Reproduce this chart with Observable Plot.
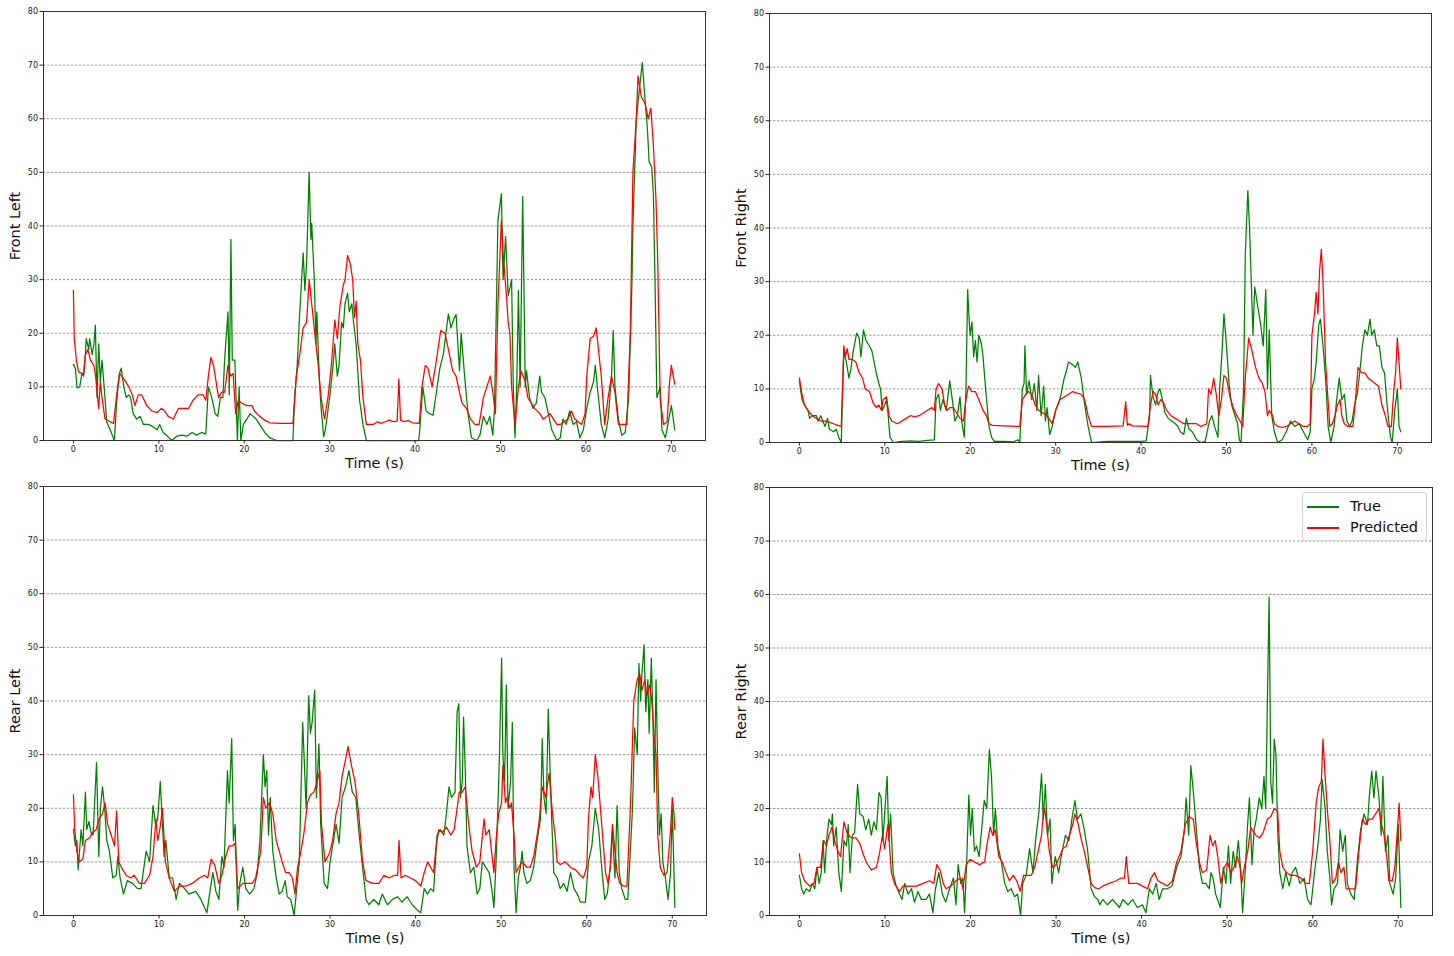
<!DOCTYPE html>
<html><head><meta charset="utf-8">
<script src="https://cdn.jsdelivr.net/npm/d3@7"></script>
<script src="https://cdn.jsdelivr.net/npm/@observablehq/plot@0.6"></script>
<style>
body{margin:0;background:#fff;font-family:"DejaVu Sans",sans-serif}
#fig{position:relative;width:1454px;height:956px;overflow:hidden}
.panel{position:absolute}
.legend{position:absolute;left:1302px;top:492px;width:123px;height:47px;border:1px solid #d4d4d4;border-radius:3px;background:rgba(255,255,255,0.85);font-family:"DejaVu Sans",sans-serif;font-size:14.5px;color:#111}
.legend .row{position:absolute;left:4px;height:20px;line-height:20px;white-space:nowrap}
.legend .sw{display:inline-block;width:32px;height:1.6px;vertical-align:middle;margin-right:11px}
</style></head><body><div id="fig"></div><script>
const xTicks = [0,10,20,30,40,50,60,70];
const yTicks = [0,10,20,30,40,50,60,70,80];
const gridTicks = [10,20,30,40,50,60,70];
const seriesNames = ["True","Predicted"];
const panelNames = ["Front Left","Front Right","Rear Left","Rear Right"];

const frontLeftTrue = [[0,14.2],[0.23,13.5],[0.43,9.8],[0.74,10],[1.0,12.5],[1.2,12],[1.4,16],[1.5,19],[1.8,17],[1.9,19],[2.2,16],[2.4,18],[2.57,21.5],[2.76,8],[2.96,18],[3.15,11],[3.35,15],[3.6,10],[3.9,3.5],[4.3,2],[4.8,0],[5.1,8],[5.4,12.5],[5.6,13.5],[5.9,10],[6.2,8],[6.5,8.5],[6.7,8],[7.0,5],[7.4,4],[7.8,4.5],[8.2,3],[8.8,3],[9.4,2.5],[9.8,2],[10.1,3],[10.5,1.5],[10.9,1],[11.5,0],[12.1,0.8],[12.7,1],[13.3,0.8],[13.9,1.5],[14.4,1],[15.0,1.5],[15.5,1.2],[15.8,10],[16.2,8],[16.6,5],[16.9,4.5],[17.2,8],[17.5,8],[17.7,15],[18.1,24],[18.25,8.5],[18.44,37.5],[18.6,15],[18.9,15],[19.2,0],[19.4,10],[19.6,0],[19.9,3],[20.3,4],[20.7,5],[21.05,4.5],[21.4,4],[21.8,3],[22.4,1.5],[23.0,0.5],[23.8,0],[25.7,0],[25.9,8],[26.2,14],[26.5,24],[26.9,35],[27.1,28],[27.3,33],[27.6,50],[27.8,37.5],[27.9,40.5],[28.2,30],[28.4,18],[28.5,24],[28.8,11],[29,6],[29.3,0.7],[29.5,2],[30,8],[30.4,14],[30.6,18],[30.9,12],[31.1,14],[31.4,22],[31.6,21],[31.8,25.5],[32.1,27.5],[32.3,24],[32.6,25.5],[32.8,22],[33.1,18],[33.5,7.5],[33.9,3],[34.3,0],[40.4,0],[40.5,1],[40.9,10],[41.3,5.5],[41.7,5],[42.1,4.7],[42.5,9],[42.9,13.5],[43.3,16],[43.9,23.6],[44.2,21],[44.5,22.5],[44.8,23.5],[45.2,13],[45.4,20],[45.8,12],[46.2,5],[46.6,0.5],[47.2,0],[47.6,1],[48,4.5],[48.4,3],[48.75,4.5],[49.1,1],[49.3,6],[49.7,41],[50.1,46],[50.3,30],[50.6,38],[50.9,27],[51.3,30],[51.5,10],[51.7,0.5],[51.9,10],[52.1,28],[52.3,10],[52.6,45.5],[52.9,10],[53.05,13],[53.4,8],[53.8,6],[54.2,7],[54.6,12],[54.8,9],[55.2,8],[55.6,5],[56,2],[56.6,0],[57,0.5],[57.3,4],[57.7,3],[58.1,5.5],[58.5,3],[58.9,3.5],[59.3,0.5],[59.7,2],[60.1,6],[60.5,9],[60.9,11],[61.1,14],[61.4,9],[61.8,3],[62.2,0.5],[62.6,4],[63,12],[63.2,20.5],[63.4,10],[63.8,4],[64.2,1],[64.6,1.5],[65,8],[65.4,30],[65.5,40],[65.9,60],[66.3,66],[66.6,70.5],[66.9,64],[67.2,58],[67.4,52],[67.7,51],[67.9,46],[68.1,29],[68.3,8],[68.7,10],[68.9,2],[69.3,0.5],[69.6,3],[70,6.5],[70.4,2]];
const frontLeftPred = [[0,28],[0.1,19],[0.35,15],[0.6,12.8],[1.0,12.5],[1.2,12.5],[1.4,16],[1.7,17],[2.0,15],[2.4,14],[2.6,12],[2.96,6],[3.15,11],[3.35,8],[3.7,4],[4.3,3.5],[4.7,3.2],[5.1,9],[5.4,12.5],[5.9,11.5],[6.5,10],[6.9,8.5],[7.2,6.5],[7.6,8.5],[8.0,8.5],[8.6,6.5],[9.2,5.5],[9.8,5.2],[10.3,6],[10.7,5.5],[11.1,4.5],[11.7,4],[12.3,6],[12.9,6],[13.5,6],[14.0,7.5],[14.6,8.5],[15.2,8.5],[15.5,7.5],[15.8,12],[16.1,15.5],[16.4,14],[16.8,10],[17.0,8],[17.35,9],[17.7,9],[18.1,14],[18.4,12],[18.7,12.5],[19.0,5],[19.3,7.5],[19.7,7],[20.3,6.5],[20.9,6.5],[21.2,5.5],[21.8,4.5],[22.4,3.8],[23.0,3.3],[24.2,3.2],[25.7,3.2],[26.1,12],[26.5,16],[26.9,21],[27.3,22],[27.6,30],[28.0,24],[28.25,20],[28.6,15],[29.0,8],[29.4,4],[29.8,8],[30.2,14],[30.6,22.5],[30.9,19],[31.2,25],[31.6,29],[31.8,30],[32.1,34.5],[32.4,33],[32.7,30],[32.9,23],[33.1,26],[33.3,18],[33.6,15],[33.9,8],[34.3,3],[35.1,3],[35.6,3.5],[36,3.2],[36.5,3.5],[37,3.8],[37.5,3.5],[37.9,3.6],[38.1,11.5],[38.3,3.8],[38.7,3.5],[39.2,3.7],[39.7,3.3],[40.5,3.2],[40.8,10],[41.2,14],[41.5,13.5],[42,10],[42.5,15],[43,20.5],[43.5,20],[43.9,17],[44.4,13],[44.8,12],[45.2,9],[45.5,7],[46,6],[46.5,4],[47,3],[47.5,3],[48,8],[48.4,10],[48.8,12],[49.1,9],[49.4,5],[49.7,25],[50.1,41],[50.3,35],[50.7,27],[50.9,22],[51.1,20],[51.3,10],[51.7,3],[52.1,10],[52.4,13],[52.9,11],[53.2,8],[53.6,7],[54,6],[54.6,5],[55,4],[55.4,4.5],[55.8,5],[56.2,4],[56.6,3],[57,3],[57.5,3.5],[57.9,4],[58.3,5.5],[58.7,4],[59.1,3.5],[59.5,3],[59.9,5],[60.1,12],[60.5,19],[60.9,19.5],[61.2,21],[61.4,18],[61.8,12],[62.2,3],[62.6,8],[63,12],[63.4,9],[63.8,3],[64.2,3],[64.8,3],[65.2,20],[65.5,50],[65.9,60],[66.1,68],[66.5,64],[66.9,63],[67.3,60],[67.6,62],[67.9,55],[68.2,45],[68.4,34],[68.7,7.5],[69.1,3],[69.5,3.5],[69.8,11],[70,14],[70.4,10.5]];

const frontRightTrue = [[0,11.5],[0.3,8],[0.5,7.3],[1,6],[1.2,4.5],[1.5,5],[2,5],[2.2,4],[2.5,5],[3,3],[3.3,4.5],[3.5,2.5],[4,2],[4.3,2.5],[4.6,1],[4.9,0],[5.2,17],[5.5,15],[5.8,12],[6,13.5],[6.3,17],[6.7,20.4],[7,19.5],[7.2,16],[7.5,21],[7.8,19],[8.2,18],[8.5,17],[9,13],[9.3,11],[9.5,10],[9.7,6],[10,7],[10.2,8],[10.4,5],[10.6,1],[11,0],[12,0.2],[13,0.3],[14,0.2],[15,0.4],[15.8,0.5],[16,8],[16.3,9],[16.5,6],[16.8,8],[17.2,6],[17.6,11.5],[17.9,8],[18.2,4],[18.5,5],[18.8,8.5],[19,4],[19.3,1],[19.5,10],[19.7,28.5],[19.9,22],[20,20],[20.2,22.5],[20.4,16],[20.6,19],[20.8,15],[21,20],[21.3,18.5],[21.5,16],[21.8,10],[22.2,3],[22.5,1],[22.8,0.2],[24,0.2],[25,0.1],[25.6,0.5],[25.8,0],[26.1,10],[26.3,11],[26.4,18],[26.6,9],[26.9,11.5],[27.2,8],[27.5,11],[27.8,6],[28,12.5],[28.3,5],[28.6,10.5],[28.8,4],[29,6.5],[29.3,1.5],[29.6,3],[30,6],[30.5,8],[31,12],[31.2,13],[31.5,15],[32,14.5],[32.3,14],[32.6,15],[33,12],[33.4,7],[33.8,3],[34.2,0],[36,0.2],[38,0.2],[40,0.2],[40.6,0.3],[41,5],[41.1,12.5],[41.4,8.5],[41.7,7],[42,9.5],[42.2,10],[42.5,8],[42.8,5.5],[43.2,4.5],[43.6,4],[44,3.5],[44.3,3],[44.6,2],[45,1.5],[45.3,4.5],[45.6,2.5],[46,2],[46.5,0.5],[47,0],[47.5,0.2],[48,4],[48.3,5],[48.6,3],[49,1],[49.2,10],[49.5,17.5],[49.7,24],[50,18],[50.3,11],[50.6,7],[51,5],[51.3,3.5],[51.5,0.5],[51.7,0],[52,10],[52.2,35],[52.5,47],[52.7,40],[52.9,30],[53.1,20],[53.3,29],[53.6,26],[54,22],[54.3,18],[54.6,28.5],[54.8,10],[55,21],[55.3,5],[55.6,2],[56,0],[56.5,0.5],[57,2],[57.5,4],[58,3],[58.5,3.5],[59,2],[59.5,0.5],[59.8,2],[60,10],[60.3,12],[60.5,15],[60.8,22],[61,23],[61.3,18],[61.6,12],[61.9,3],[62.2,0],[62.6,3],[62.9,8],[63.2,12],[63.5,8],[63.8,9],[64.1,4],[64.4,3],[64.7,4],[65,7],[65.3,9],[65.6,13],[65.9,18],[66.2,21],[66.5,20],[66.8,23],[67,20],[67.3,21],[67.6,18],[67.9,18],[68.2,14],[68.5,13],[68.8,7],[69.2,1],[69.4,0],[69.7,6],[70,10],[70.2,3],[70.4,2]];
const frontRightPred = [[0,12],[0.3,9],[0.6,7],[1,6],[1.5,5],[2,4.5],[2.5,4],[3,4],[3.5,3.8],[4,3.5],[4.5,3.2],[4.9,3],[5.2,18],[5.4,16],[5.6,17.5],[5.8,15.5],[6.2,15.5],[6.6,15],[7,13],[7.4,12],[7.7,10],[8.2,9.5],[8.6,7.5],[9,6.5],[9.3,7],[9.6,6],[9.8,8],[10.2,8.5],[10.5,5],[10.8,4],[11.5,3.5],[12,4],[12.5,4.5],[13,5],[13.5,4.8],[14,5],[14.5,5.5],[15,6],[15.5,6.5],[15.8,6],[16,10],[16.3,11],[16.7,10],[17,7],[17.3,6],[17.6,6.5],[18,6.5],[18.4,5.5],[18.8,4.5],[19.2,4],[19.5,8],[19.8,10.5],[20.2,9.5],[20.6,9.5],[21,8],[21.5,6],[21.9,5],[22.2,3.5],[22.6,3.2],[24,3.1],[25.8,3],[26.1,8],[26.5,9],[26.8,9.5],[27.2,9],[27.6,7],[28,6],[28.5,5.5],[29,5],[29.4,4],[29.6,3.5],[30,6],[30.5,8],[31,8.5],[31.5,9],[32,9.5],[32.5,9.2],[33,9],[33.4,8],[33.8,5],[34.2,3],[36,3],[37.9,3.1],[38.2,7.6],[38.4,3.2],[38.6,3.5],[39,3.1],[40.8,3],[41.1,7],[41.4,9.5],[41.7,9],[42,7],[42.3,8],[42.6,7.5],[43,6],[43.5,5],[44,4.5],[44.5,4],[45,3.5],[46,3.5],[46.5,3.5],[47,3],[47.7,3.5],[47.9,10],[48.2,9],[48.5,12],[48.8,9],[49.1,5],[49.4,8],[49.7,12.5],[50,12],[50.4,8.5],[50.8,6.5],[51.2,5],[51.6,4],[51.9,3],[52.2,12],[52.6,19.5],[53,17],[53.4,14],[53.8,12],[54.2,11],[54.5,9.5],[54.8,5],[55,6],[55.4,5],[55.6,3.5],[56,3],[56.5,2.8],[57,3],[57.5,3.5],[58,4],[58.5,3.5],[59,3],[59.5,3],[59.8,3.5],[60,20],[60.3,24],[60.5,28],[60.7,24],[60.9,32],[61.1,36],[61.3,30],[61.6,15],[61.8,10],[62.1,3],[62.4,3.5],[62.7,5],[63,7],[63.3,8],[63.5,5],[63.8,3.5],[64.2,3],[64.8,3],[65.1,8],[65.4,14],[65.8,13],[66.2,13],[66.6,12],[67,11.5],[67.4,11],[67.8,10.5],[68.2,7],[68.6,5],[68.9,3],[69.3,3],[69.6,10],[69.8,13],[70,19.5],[70.2,15],[70.4,10]];

const rearLeftTrue = [[0,16],[0.23,13],[0.4,14],[0.55,8.5],[0.9,16],[1.1,13],[1.4,23],[1.55,16],[1.8,17.5],[2.06,15.5],[2.3,15],[2.7,28.5],[2.96,11],[3.15,20],[3.4,24],[3.65,20],[3.9,14],[4.2,12],[4.6,7],[5.0,7.5],[5.2,11],[5.45,7],[5.85,4],[6.3,6.5],[6.9,6],[7.5,5],[7.9,5],[8.5,12],[8.9,10],[9.3,20.5],[9.6,17],[9.85,18],[10.15,25],[10.4,17],[10.6,11],[10.8,14],[11.2,7],[11.6,7],[12,3],[12.4,6],[13,5],[13.5,4],[14.3,4.5],[14.9,3],[15.6,0.5],[16,5],[16.3,8],[16.65,4.5],[17,3],[17.35,11],[17.6,9],[18,27],[18.2,21],[18.5,33],[18.7,14],[18.9,17],[19.2,1],[19.45,6],[19.8,9],[20.15,5],[20.6,4],[21.1,5],[21.5,8],[21.8,14],[22.2,30],[22.4,24],[22.6,27],[22.8,15],[23,22],[23.3,12],[23.7,7],[24.05,4],[24.4,4.5],[24.75,6.5],[25,3.5],[25.4,3],[25.8,0],[26.4,10],[26.8,36],[27.2,20],[27.5,41],[27.7,34],[27.9,36],[28.2,42],[28.4,22],[28.7,32],[28.9,17],[29.3,6],[29.7,5],[30,10],[30.5,15],[30.7,17],[31.05,13.5],[31.4,22],[31.8,24],[32.2,27],[32.6,23],[33,22],[33.4,15],[33.8,9],[34.2,3],[34.55,2],[35.1,3],[35.7,2],[36.1,4],[36.7,2],[37.3,3],[37.9,3.5],[38.4,2.5],[39,3.5],[39.6,2],[40.2,1],[40.6,0.5],[41,5],[41.4,4],[41.75,5],[42.1,4.5],[42.5,15],[42.9,16],[43.3,15],[43.6,19],[43.9,24],[44.2,22],[44.6,23],[44.85,38],[45.05,39.5],[45.25,22],[45.45,25],[45.6,37],[45.8,27],[46,13],[46.4,8],[46.8,9],[47.2,4],[47.5,5],[47.8,10],[48.2,9],[48.6,8],[48.9,5],[49.15,1.5],[49.4,10],[49.65,22],[49.8,30],[50.05,48],[50.2,30],[50.4,25],[50.6,43],[50.8,20],[51.1,25],[51.3,36],[51.5,9],[51.75,0.5],[52,7],[52.25,9],[52.45,12],[52.65,8],[53,6],[53.4,6.5],[53.8,9],[54.2,14],[54.6,18],[54.8,33],[55,22],[55.25,19],[55.5,38.5],[55.7,28],[55.9,18],[56.15,8],[56.55,7],[56.9,5],[57.3,6],[57.7,4.5],[58.1,8],[58.5,5],[58.9,4],[59.25,2.5],[59.85,2.5],[60.2,10],[60.6,13],[61,20],[61.4,16],[61.8,8],[62.1,3],[62.4,4],[62.75,9],[63,16],[63.3,7],[63.55,20.5],[63.8,8],[64.1,5],[64.5,3],[64.8,3],[65.1,12],[65.35,20],[65.6,35],[65.9,30],[66.1,47],[66.3,40],[66.45,45],[66.7,50.5],[66.9,38],[67.15,44],[67.3,34],[67.55,48],[67.75,36],[67.9,23],[68.1,44],[68.3,28],[68.5,15],[68.7,19],[68.9,10],[69.2,7],[69.5,3],[69.8,8],[70,20],[70.2,8],[70.3,1.5]];
const rearLeftPred = [[0,22.5],[0.15,16],[0.4,12],[0.7,10],[1.1,10.5],[1.4,14],[1.9,14.5],[2.25,15.5],[2.65,16],[3.0,18],[3.4,19],[3.7,21],[4,17],[4.4,15],[4.8,13],[5.05,19.5],[5.3,10],[5.6,9],[6.15,7.5],[6.7,7],[7.1,7.5],[7.7,6],[8.3,6],[8.9,7.5],[9.3,11],[9.65,18],[9.85,14],[10.1,16],[10.4,20],[10.75,10],[11.2,7],[11.8,4.5],[12.4,5.5],[13.15,5.5],[13.9,6],[14.7,7],[15.3,7.5],[15.7,7],[16.1,10.5],[16.5,9.5],[17,6],[17.35,7.5],[17.8,11],[18.2,13],[18.6,13],[18.9,13.5],[19.2,5],[19.8,6],[20.35,6],[20.9,6],[21.3,7],[21.9,12],[22.2,22],[22.5,20],[22.9,21],[23.3,19],[23.7,14],[24.05,12],[24.4,10],[24.8,8],[25.2,8],[25.6,7],[25.9,4],[26.2,9],[26.6,12],[27,16],[27.35,21],[27.7,22.5],[28.1,23],[28.5,25],[28.8,27],[29,17],[29.4,10],[29.9,11.5],[30.3,14],[30.7,19],[31.05,21],[31.4,26],[31.8,29],[32.1,31.5],[32.5,28],[32.9,25],[33.2,21],[33.4,18],[33.8,10],[34.2,6.5],[35,6],[35.7,6],[36.3,7.5],[36.9,7],[37.5,7.5],[37.9,7.5],[38.05,14],[38.3,7],[38.8,7.5],[39.4,7],[40,6.5],[40.6,5.5],[41,8],[41.4,10],[41.75,9],[42.1,8],[42.4,13],[42.7,16],[43.1,15.5],[43.6,16.5],[44.1,15],[44.5,16],[44.85,20],[45.1,23],[45.45,23],[45.8,24],[46.2,17],[46.6,12],[47.1,9],[47.5,10],[48,18],[48.2,15],[48.6,16],[48.8,13],[49.15,8],[49.4,14],[49.7,19],[50.05,21],[50.2,28],[50.5,21],[50.7,22],[51,20],[51.2,21],[51.5,15],[51.75,8],[52.05,9],[52.45,10],[53,9],[53.4,9],[53.8,11],[54.4,17],[54.8,24],[55.2,22],[55.6,26.5],[56,19],[56.3,15],[56.55,10],[56.9,9.5],[57.5,10],[58.1,9],[58.7,8.5],[59.25,7.5],[59.6,7],[60,9],[60.2,18],[60.5,24],[60.7,22],[61,30],[61.3,26],[61.6,20],[61.85,15],[62.2,8],[62.5,6],[62.75,9],[63,17],[63.3,12],[63.55,8],[63.85,6],[64.3,5.5],[64.7,5.5],[65.1,20],[65.5,40],[65.9,44],[66.2,45],[66.45,42],[66.8,44],[67,41],[67.35,43],[67.6,40],[67.9,33],[68.1,30],[68.3,15],[68.6,9],[69,7.5],[69.4,8],[69.8,16],[70,22],[70.2,19],[70.3,16]];

const rearRightTrue = [[0,7.5],[0.25,5],[0.5,4],[0.8,5],[1.2,4.5],[1.5,6],[1.8,5],[2.05,9],[2.3,6],[2.55,8],[2.75,14],[2.95,8],[3.2,14.5],[3.45,18],[3.75,17],[3.85,19],[4,13],[4.3,16.5],[4.6,8],[4.9,4.5],[5.2,14],[5.5,13],[5.7,17],[5.9,8],[6.2,15],[6.45,15.5],[6.8,24.5],[7.05,19],[7.45,18.5],[7.75,16],[8.1,18],[8.4,15],[8.7,17.5],[9,16],[9.3,23],[9.55,22],[9.75,14],[10,20],[10.25,26],[10.45,14],[10.65,19],[10.95,8],[11.3,5.5],[11.7,4],[12,3],[12.3,6],[12.7,4],[13.1,5],[13.45,2.5],[13.85,4.5],[14.25,3],[14.8,3],[15.2,4],[15.6,0.5],[15.9,5],[16.3,8],[16.7,4],[17.1,2.5],[17.55,5],[18,7],[18.3,2],[18.55,9.5],[18.85,6],[19.1,7],[19.3,0.5],[19.55,10],[19.8,22.5],[20,15],[20.2,20],[20.45,12],[20.7,13],[21,11],[21.35,17],[21.6,21.5],[21.9,20],[22.2,31],[22.45,26],[22.7,15],[22.9,20],[23.2,13],[23.6,10],[24,6],[24.35,4.5],[24.75,5],[25.15,3.5],[25.5,4],[25.85,0],[26.1,6],[26.5,7.5],[26.9,12.5],[27.3,8],[27.6,14],[28,19.5],[28.3,26.5],[28.5,18],[28.75,24.5],[29,15],[29.3,18],[29.5,6],[29.9,11],[30.3,8],[30.7,12],[31.1,15],[31.5,14],[31.85,18],[32.2,21.5],[32.5,18],[32.9,19],[33.3,16],[33.7,12],[34.1,5],[34.5,3.5],[34.9,3],[35.1,2],[35.45,3],[36,2],[36.6,3],[37.4,1.5],[37.8,3],[38.4,2],[38.95,3],[39.5,1.5],[40.1,2],[40.5,0.5],[40.9,5],[41.3,4],[41.7,6],[42.05,3],[42.45,5],[43,5],[43.55,5.5],[44.1,9],[44.6,11],[45,16],[45.2,22],[45.5,15],[45.75,28],[46.05,23],[46.35,17],[46.75,9],[47.1,6],[47.5,6],[47.9,5],[48.1,8],[48.35,7],[48.65,4],[49.2,1.5],[49.55,9],[49.85,6],[50.15,13],[50.4,6],[50.7,12],[51,9],[51.3,14],[51.6,8],[51.8,0.5],[52.1,8],[52.35,16],[52.6,22],[52.9,9.5],[53.15,16],[53.4,18],[53.75,22],[54.05,20],[54.3,26],[54.5,20],[54.7,40],[54.9,59.5],[55.1,25],[55.3,21],[55.5,33],[55.7,30],[55.9,16],[56.15,8],[56.5,5],[56.85,8],[57.25,5.5],[57.6,8],[58,9],[58.5,6],[59,7],[59.4,3],[59.8,2],[60.2,8],[60.6,13],[60.9,18],[61.1,25.5],[61.45,20],[61.7,12],[62,7],[62.2,2],[62.5,5],[62.9,6],[63.2,16],[63.5,12],[63.8,15],[64.05,6],[64.45,4],[64.85,3],[65.2,10],[65.6,16],[66,19],[66.4,17],[66.65,23],[66.9,27],[67.15,22],[67.4,27],[67.75,22],[68,15],[68.2,26],[68.5,12],[68.8,15],[69,6],[69.4,4],[69.7,7],[70,17],[70.3,1.5]];
const rearRightPred = [[0,11.5],[0.25,8],[0.6,6.5],[1.2,5.5],[1.7,6],[2.05,9],[2.45,9],[2.85,14],[3.15,13],[3.45,15],[3.8,16.5],[4.1,14],[4.5,12],[4.8,11],[5.2,17.5],[5.55,15.5],[6.05,14.5],[6.6,14.5],[7.05,13.5],[7.45,11.5],[7.8,10],[8.4,8.5],[9,9],[9.4,12],[9.7,15],[9.95,12.5],[10.35,17],[10.75,8],[11.1,6],[11.7,4.5],[12.1,5.5],[12.9,5.5],[13.65,5.5],[14.45,6],[15.2,6.5],[15.7,6],[16.05,9.5],[16.45,8.5],[16.8,6],[17.15,5],[17.7,5.5],[18.3,6.5],[18.85,7],[19.1,5],[19.5,9.5],[19.95,10.5],[20.45,10],[21.05,9.5],[21.65,10],[21.9,13],[22.3,16.5],[22.6,15],[22.9,16],[23.3,11],[23.7,10],[24.15,8],[24.55,6.5],[25,7.5],[25.4,6.5],[25.8,4.5],[26.2,7.5],[26.7,7.5],[27.1,7.5],[27.5,9],[27.9,12],[28.3,15],[28.45,18],[28.65,20],[28.9,17],[29.2,12],[29.6,9],[30,9.5],[30.4,11],[30.8,12.5],[31.2,13],[31.55,15],[31.95,17],[32.2,19],[32.6,17],[32.9,14.5],[33.3,12],[33.7,9],[34.1,6],[34.5,5.2],[35,5],[35.45,5.5],[36.2,6],[37,6.5],[37.6,7],[38,7],[38.2,11],[38.5,6],[38.95,6],[39.5,6],[40.1,5.5],[40.7,5],[41.1,7],[41.5,8],[41.9,6.5],[42.45,6],[43,5.5],[43.6,6.5],[44.1,10],[44.6,12],[45.1,17],[45.55,18.5],[46.05,18],[46.35,14],[46.75,10],[47.1,8],[47.6,8.5],[48,15],[48.3,13],[48.6,14],[48.9,11],[49.25,6],[49.65,9],[50.05,10],[50.4,8],[50.8,9],[51.2,11],[51.5,9],[51.7,6],[52,9],[52.4,12],[52.75,16.5],[53.35,15],[53.8,14.5],[54.2,15.5],[54.7,18],[55.1,18.5],[55.5,20],[55.9,19.5],[56.15,12],[56.5,9],[56.95,8],[57.45,7.5],[58,7.5],[58.6,7],[59.2,6],[59.6,6],[60,12],[60.4,21],[60.7,24],[61,25],[61.2,33],[61.45,26],[61.7,20],[62,14],[62.3,6],[62.7,7],[63,10],[63.3,8],[63.65,9],[63.9,5],[64.45,5],[65,5],[65.4,12],[65.8,18],[66.2,17],[66.6,18],[66.95,18],[67.35,19],[67.75,20],[68.05,17],[68.35,15],[68.65,11],[68.9,6.5],[69.3,6.5],[69.6,9],[69.9,16],[70.1,21],[70.3,14]];

const trueSeries = [frontLeftTrue, frontRightTrue, rearLeftTrue, rearRightTrue];
const predSeries = [frontLeftPred, frontRightPred, rearLeftPred, rearRightPred];
const colors = {True: "#008000", Predicted: "#ff0000"};

// layout of each subplot (pixels)
const layout = [
  {left: 0,   top: 0,   mL: 43, mR: 22, mT: 11, mB: 38},
  {left: 727, top: 0,   mL: 42, mR: 23, mT: 13, mB: 36},
  {left: 0,   top: 478, mL: 43, mR: 21, mT: 8,  mB: 41},
  {left: 727, top: 478, mL: 42, mR: 22, mT: 9,  mB: 41}
];

const fig = document.getElementById("fig");
panelNames.forEach((name, i) => {
  const L = layout[i];
  const rows = [
    ...trueSeries[i].map(([t, v]) => ({t, v, s: "True"})),
    ...predSeries[i].map(([t, v]) => ({t, v, s: "Predicted"}))
  ];
  const chart = Plot.plot({
    width: 727, height: 478,
    marginLeft: L.mL, marginRight: L.mR, marginTop: L.mT, marginBottom: L.mB,
    style: {fontFamily: "DejaVu Sans, sans-serif", color: "#222", background: "transparent"},
    x: {domain: [-3.5, 74]},
    y: {domain: [0, 80]},
    color: {domain: seriesNames, range: seriesNames.map(s => colors[s])},
    marks: [
      Plot.gridY(gridTicks, {stroke: "#777", strokeOpacity: 0.9, strokeWidth: 0.8, strokeDasharray: "2.5,1.5"}),
      Plot.line(rows, {x: "t", y: "v", z: "s", stroke: "s", strokeWidth: 1.25, curve: "linear"}),
      Plot.frame({stroke: "#333", strokeWidth: 1}),
      Plot.axisX(xTicks, {tickSize: 3.5, tickPadding: 2.5, fontSize: 8, label: null}),
      Plot.axisY(yTicks, {tickSize: 3.5, tickPadding: 2, fontSize: 8, label: null}),
      Plot.text(["Time (s)"], {frameAnchor: "bottom", dy: 23, fontSize: 14.5, textAnchor: "middle", lineAnchor: "middle", fill: "#111"}),
      Plot.text([name], {frameAnchor: "left", dx: -28, rotate: -90, fontSize: 14.5, textAnchor: "middle", lineAnchor: "middle", fill: "#111"})
    ]
  });
  chart.classList.add("panel");
  chart.style.left = L.left + "px";
  chart.style.top = L.top + "px";
  fig.appendChild(chart);
});

// legend (inside the Rear Right panel)
const lg = document.createElement("div");
lg.className = "legend";
seriesNames.forEach((s, k) => {
  const r = document.createElement("div");
  r.className = "row";
  r.style.top = (3 + k * 21) + "px";
  r.innerHTML = `<span class="sw" style="background:${colors[s]}"></span>${s}`;
  lg.appendChild(r);
});
fig.appendChild(lg);
</script></body></html>
